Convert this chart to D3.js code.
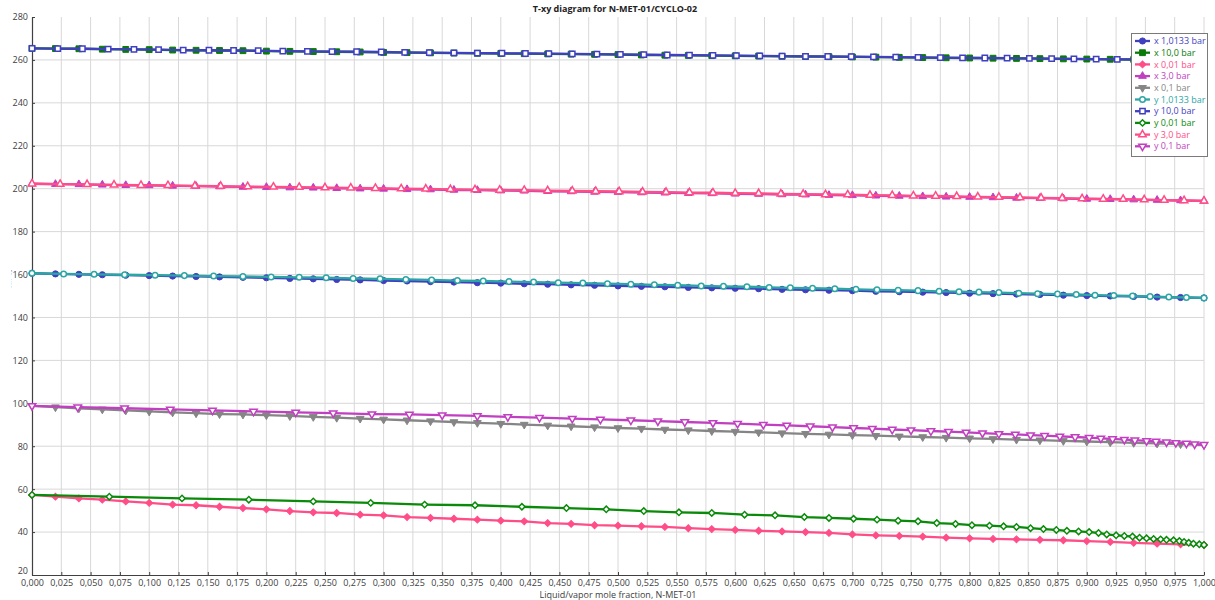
<!DOCTYPE html>
<html>
<head>
<meta charset="utf-8">
<script src="https://cdn.jsdelivr.net/npm/d3@7"></script>
<style>
  body { margin: 0; background: #fff; }
  text { font-family: "Open Sans", "Noto Sans", sans-serif; }
</style>
</head>
<body>
<script>
/***********************************************************************************/
// Data

var xLiquid = [0,0.02,0.04,0.06,0.08,0.1,0.12,0.14,0.16,0.18,0.2,0.22,0.24,0.26,0.28,0.3,0.32,0.34,0.36,0.38,
  0.4,0.42,0.44,0.46,0.48,0.5,0.52,0.54,0.56,0.58,0.6,0.62,0.64,0.66,0.68,0.7,0.72,0.74,0.76,0.78,
  0.8,0.82,0.84,0.86,0.88,0.9,0.92,0.94,0.96,0.98,1];

// 10,0 bar
var T_10 = [265.4,265.3,265.2,265.0,264.9,264.8,264.6,264.5,264.4,264.3,264.1,264.0,263.9,263.8,263.7,263.5,263.4,263.3,263.2,263.1,
  263.0,262.9,262.8,262.7,262.6,262.5,262.3,262.2,262.1,262.0,261.9,261.8,261.7,261.6,261.5,261.4,261.3,261.2,261.1,261.0,
  260.9,260.8,260.7,260.6,260.5,260.4,260.3,260.2,260.1,260.0,259.9];
var yVap_10 = [0,0.022,0.043,0.065,0.087,0.108,0.129,0.151,0.172,0.193,0.214,0.235,0.256,0.277,0.298,0.318,0.339,0.360,0.380,0.401,
  0.421,0.441,0.461,0.482,0.502,0.522,0.542,0.561,0.581,0.601,0.621,0.640,0.660,0.679,0.699,0.718,0.737,0.756,0.775,0.794,
  0.813,0.832,0.851,0.870,0.889,0.908,0.926,0.945,0.963,0.982,1];

// 3,0 bar
var T_3 = [202.3,202.1,202.0,201.8,201.6,201.5,201.3,201.2,201.0,200.8,200.7,200.5,200.4,200.2,200.0,199.9,199.7,199.6,199.4,199.3,
  199.1,199.0,198.8,198.7,198.5,198.4,198.2,198.1,197.9,197.8,197.6,197.5,197.3,197.2,197.0,196.9,196.7,196.6,196.4,196.2,
  196.1,195.9,195.7,195.6,195.4,195.2,195.1,194.9,194.7,194.5,194.3];
var yVap_3 = [0,0.024,0.047,0.070,0.093,0.116,0.139,0.161,0.184,0.206,0.228,0.250,0.272,0.293,0.315,0.336,0.357,0.378,0.399,0.420,
  0.440,0.461,0.481,0.501,0.521,0.541,0.561,0.581,0.600,0.620,0.639,0.658,0.677,0.696,0.715,0.734,0.752,0.771,0.789,0.807,
  0.825,0.843,0.861,0.879,0.896,0.914,0.931,0.949,0.966,0.983,1];

// 1,0133 bar
var T_1 = [160.6,160.3,160.1,159.9,159.7,159.5,159.3,159.1,158.9,158.7,158.5,158.2,158.0,157.7,157.5,157.2,157.0,156.7,156.5,156.2,
  156.0,155.7,155.5,155.2,155.0,154.7,154.5,154.3,154.0,153.8,153.6,153.4,153.1,152.9,152.7,152.5,152.2,152.0,151.8,151.6,
  151.3,151.1,150.9,150.7,150.4,150.2,150.0,149.8,149.5,149.3,149.1];
var yVap_1 = [0,0.027,0.053,0.079,0.105,0.130,0.155,0.180,0.204,0.228,0.251,0.274,0.297,0.319,0.341,0.363,0.385,0.407,0.428,0.449,
  0.470,0.491,0.511,0.531,0.551,0.571,0.590,0.610,0.629,0.647,0.666,0.685,0.703,0.721,0.739,0.756,0.774,0.791,0.808,0.825,
  0.842,0.858,0.875,0.891,0.907,0.923,0.939,0.954,0.970,0.985,1];

// 0,1 bar
var T_01 = [98.8,98.2,97.7,97.2,96.7,96.2,95.8,95.4,95.0,94.8,94.5,94.1,93.7,93.3,92.9,92.5,92.1,91.7,91.3,90.9,
  90.5,90.1,89.7,89.3,88.9,88.5,88.2,87.8,87.5,87.1,86.8,86.5,86.1,85.8,85.5,85.2,84.9,84.6,84.3,84.0,
  83.7,83.4,83.1,82.8,82.5,82.2,81.9,81.6,81.3,81.0,80.7];
var yVap_01 = [0,0.039,0.079,0.118,0.154,0.189,0.225,0.257,0.290,0.322,0.350,0.380,0.406,0.433,0.461,0.485,0.511,0.534,0.557,0.581,
  0.602,0.624,0.644,0.664,0.683,0.701,0.717,0.734,0.750,0.767,0.782,0.797,0.811,0.825,0.839,0.852,0.864,0.877,0.890,0.902,
  0.912,0.922,0.932,0.941,0.951,0.959,0.968,0.976,0.985,0.992,1];

// 0,01 bar
var T_001 = [57.3,56.5,55.7,55.1,54.3,53.6,52.8,52.5,51.8,51.2,50.6,49.8,49.2,48.9,48.1,47.8,47.0,46.6,46.2,45.8,
  45.3,45.0,44.2,43.8,43.2,43.0,42.7,42.4,41.8,41.4,41.0,40.6,40.3,40.0,39.6,38.9,38.5,38.2,37.9,37.4,
  37.1,36.8,36.6,36.4,36.2,35.8,35.4,35.0,34.6,34.3,34.0];
var yVap_001 = [0,0.066,0.128,0.185,0.240,0.289,0.335,0.378,0.418,0.456,0.490,0.522,0.552,0.580,0.608,0.634,0.659,0.680,0.701,0.721,
  0.739,0.756,0.772,0.788,0.802,0.817,0.829,0.840,0.852,0.863,0.874,0.883,0.893,0.902,0.910,0.917,0.925,0.932,0.939,0.945,
  0.951,0.957,0.963,0.968,0.974,0.979,0.983,0.987,0.991,0.996,1];

var seriesNames = ['x 1,0133 bar','x 10,0 bar','x 0,01 bar','x 3,0 bar','x 0,1 bar',
                   'y 1,0133 bar','y 10,0 bar','y 0,01 bar','y 3,0 bar','y 0,1 bar'];
var seriesX = [xLiquid, xLiquid, xLiquid, xLiquid, xLiquid, yVap_1, yVap_10, yVap_001, yVap_3, yVap_01];
var seriesT = [T_1, T_10, T_001, T_3, T_01, T_1, T_10, T_001, T_3, T_01];

var yTicks = [20,40,60,80,100,120,140,160,180,200,220,240,260,280];

/***********************************************************************************/
// Styles

var colors = ['#3f3fbf','#0a7a0a','#ff4d88','#c13fc1','#858585','#2ca6a4','#3f3fbf','#0a8a0a','#ff4d88','#c13fc1'];
var shapes = [d3.symbolCircle, d3.symbolSquare, d3.symbolSquare, d3.symbolTriangle, d3.symbolTriangle,
              d3.symbolCircle, d3.symbolSquare, d3.symbolSquare, d3.symbolTriangle, d3.symbolTriangle];
var turns  = [0, 0, 45, 0, 180, 0, 0, 45, 0, 180];
var sizes  = [30, 34, 24, 26, 26, 24, 28, 20, 24, 24];
var filled = [true,true,true,true,true,false,false,false,false,false];

/***********************************************************************************/
// Setup

var W = 1215, H = 600;
var svg = d3.select('body').append('svg').attr('width', W).attr('height', H);

var x = d3.scaleLinear().domain([0, 1]).range([32, 1204]);
var y = d3.scaleLinear().domain([20, 280]).range([575, 17]);

var xTicks = d3.range(0, 41).map(function(i){ return i / 40; });
var fmt = d3.formatLocale({ decimal: ',', thousands: ' ', grouping: [3], currency: ['', ''] }).format('.3f');

// grid
svg.append('g').selectAll('line').data(xTicks.slice(1)).enter().append('line')
  .attr('x1', function(d){ return x(d); }).attr('x2', function(d){ return x(d); })
  .attr('y1', 17).attr('y2', 575)
  .attr('stroke', '#d8d8d8').attr('stroke-width', 1);
svg.append('g').selectAll('line').data(yTicks.slice(1, -1)).enter().append('line')
  .attr('x1', 32).attr('x2', 1204)
  .attr('y1', function(d){ return y(d); }).attr('y2', function(d){ return y(d); })
  .attr('stroke', '#d8d8d8').attr('stroke-width', 1);

// axes
var xAxis = svg.append('g').attr('transform', 'translate(0,575)')
  .call(d3.axisBottom(x).tickValues(xTicks).tickFormat(fmt).tickSizeInner(-3).tickSizeOuter(0).tickPadding(5));
var yAxis = svg.append('g').attr('transform', 'translate(32,0)')
  .call(d3.axisLeft(y).tickValues(yTicks).tickSizeInner(-3).tickSizeOuter(0).tickPadding(4));
[xAxis, yAxis].forEach(function(a){
  a.select('.domain').attr('stroke', '#404040').attr('stroke-width', 1.2);
  a.selectAll('.tick line').attr('stroke', '#404040');
  a.selectAll('.tick text').attr('fill', '#404040').style('font-size', '9px').style('font-family', '"Open Sans", sans-serif');
});
// lift the lowest y label a little so it clears the first x label
yAxis.selectAll('.tick text').filter(function(d){ return d === 20; }).attr('dy', '-0.2em');

// titles
svg.append('text').attr('x', 615).attr('y', 12).attr('text-anchor', 'middle')
  .style('font-size', '9px').style('font-weight', 'bold').attr('fill', '#222')
  .text('T-xy diagram for N-MET-01/CYCLO-02');
svg.append('text').attr('x', 618).attr('y', 598).attr('text-anchor', 'middle')
  .style('font-size', '9px').attr('fill', '#404040')
  .text('Liquid/vapor mole fraction, N-MET-01');
svg.append('clipPath').attr('id', 'ylabclip').append('rect').attr('x', 5).attr('y', 0).attr('width', 20).attr('height', H);
svg.append('text').attr('clip-path', 'url(#ylabclip)')
  .attr('transform', 'translate(11,294) rotate(-90)').attr('text-anchor', 'middle')
  .style('font-size', '9px').attr('fill', '#555')
  .text('Temperature, C');

/***********************************************************************************/
// Series

var line = d3.line().x(function(d){ return x(d[0]); }).y(function(d){ return y(d[1]); });

function symbolPath(i){
  return d3.symbol().type(shapes[i]).size(sizes[i])();
}

seriesNames.forEach(function(name, i){
  var pts = seriesX[i].map(function(v, k){ return [v, seriesT[i][k]]; });
  var g = svg.append('g');
  g.append('path').datum(pts).attr('d', line)
    .attr('fill', 'none').attr('stroke', colors[i]).attr('stroke-width', 2.3).attr('stroke-linejoin', 'round');
  g.selectAll('path.m').data(pts).enter().append('path').attr('class', 'm')
    .attr('d', symbolPath(i))
    .attr('transform', function(d){ return 'translate(' + x(d[0]) + ',' + y(d[1]) + ') rotate(' + turns[i] + ')'; })
    .attr('fill', filled[i] ? colors[i] : '#fff')
    .attr('stroke', colors[i]).attr('stroke-width', filled[i] ? 1 : 1.5);
});

/***********************************************************************************/
// Legend

var lg = svg.append('g');
lg.append('rect').attr('x', 1131.5).attr('y', 33.5).attr('width', 76).attr('height', 123)
  .attr('fill', '#fff').attr('stroke', '#7a7a7a').attr('stroke-width', 1);
seriesNames.forEach(function(name, i){
  var cy = 41 + i * 11.7;
  lg.append('line').attr('x1', 1135).attr('x2', 1150).attr('y1', cy).attr('y2', cy)
    .attr('stroke', colors[i]).attr('stroke-width', 2.3);
  lg.append('path').attr('d', symbolPath(i))
    .attr('transform', 'translate(1142.5,' + cy + ') rotate(' + turns[i] + ')')
    .attr('fill', filled[i] ? colors[i] : '#fff')
    .attr('stroke', colors[i]).attr('stroke-width', filled[i] ? 1 : 1.5);
  lg.append('text').attr('x', 1154).attr('y', cy).attr('dy', '0.35em')
    .style('font-size', '9px').attr('fill', colors[i]).text(name);
});
</script>
</body>
</html>
